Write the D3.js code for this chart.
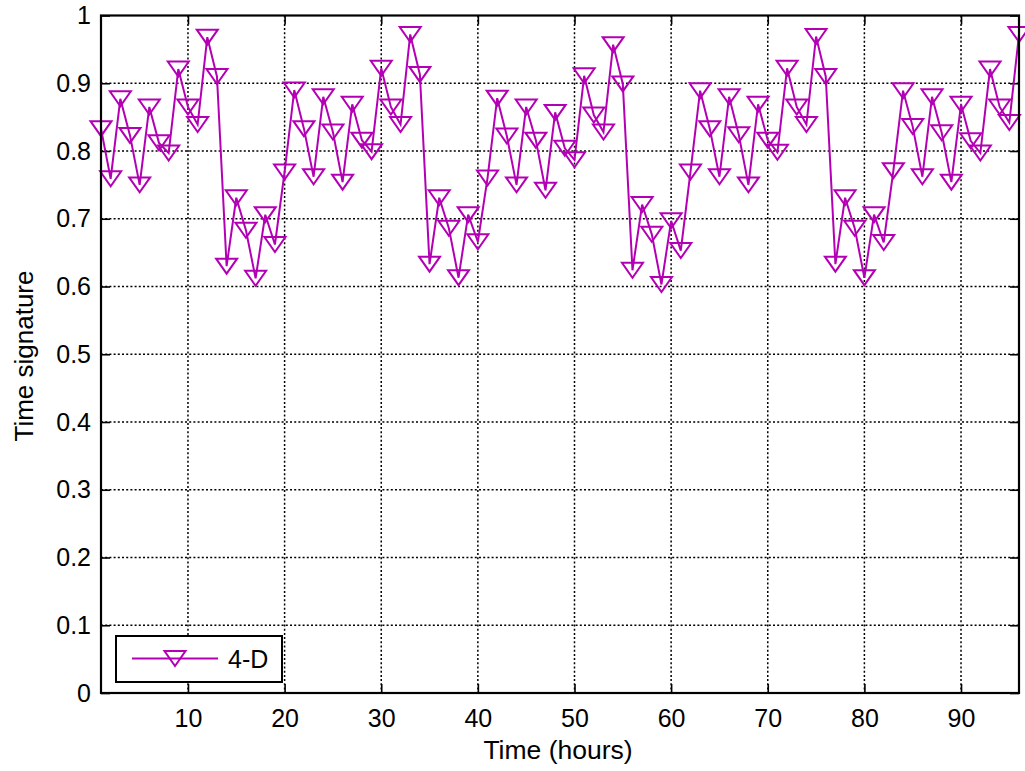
<!DOCTYPE html>
<html>
<head>
<meta charset="utf-8">
<script src="https://cdn.jsdelivr.net/npm/d3@7"></script>
<style>
  html, body { margin: 0; padding: 0; background: #fff; }
  svg { display: block; }
  text { font-family: "Liberation Sans", Arial, sans-serif; fill: #000; }
</style>
</head>
<body>
<svg id="chart" width="1025" height="771"></svg>
<script>
// Hourly time signature, 4-D series
const hours = d3.range(1, 97);
const signature4D = [
  0.833, 0.759, 0.877, 0.823, 0.750, 0.865, 0.812, 0.797, 0.921, 0.865,
  0.839, 0.968, 0.910, 0.630, 0.731, 0.683, 0.612, 0.706, 0.662, 0.769,
  0.890, 0.833, 0.762, 0.880, 0.828, 0.754, 0.869, 0.816, 0.799, 0.922,
  0.865, 0.839, 0.972, 0.913, 0.633, 0.731, 0.686, 0.613, 0.706, 0.666,
  0.760, 0.878, 0.822, 0.750, 0.865, 0.816, 0.742, 0.857, 0.804, 0.787,
  0.911, 0.853, 0.828, 0.957, 0.899, 0.624, 0.721, 0.677, 0.603, 0.697,
  0.653, 0.769, 0.889, 0.833, 0.762, 0.880, 0.824, 0.750, 0.869, 0.816,
  0.798, 0.922, 0.865, 0.839, 0.969, 0.910, 0.633, 0.731, 0.686, 0.613,
  0.706, 0.665, 0.771, 0.889, 0.836, 0.762, 0.880, 0.827, 0.754, 0.869,
  0.815, 0.797, 0.921, 0.865, 0.842, 0.972
];
const xTicks = [10, 20, 30, 40, 50, 60, 70, 80, 90];
const yTicks = [0, 0.1, 0.2, 0.3, 0.4, 0.5, 0.6, 0.7, 0.8, 0.9, 1];
const seriesName = "4-D";
const xTitle = "Time (hours)";
const yTitle = "Time signature";

const color = "#b400b4";
const svg = d3.select("#chart");
const plot = { left: 101, top: 15.5, right: 1019, bottom: 693 };

const x = d3.scaleLinear().domain([1, 96]).range([plot.left, plot.right]);
const y = d3.scaleLinear().domain([0, 1]).range([plot.bottom, plot.top]);

// Grid (dotted)
const grid = svg.append("g");
grid.selectAll("line.gx").data(xTicks).join("line")
  .attr("x1", d => x(d)).attr("x2", d => x(d))
  .attr("y1", plot.top).attr("y2", plot.bottom)
  .attr("stroke", "#000").attr("stroke-width", 1.5).attr("stroke-dasharray", "2,2.2");
grid.selectAll("line.gy").data(yTicks.filter(d => d > 0 && d < 1)).join("line")
  .attr("x1", plot.left).attr("x2", plot.right)
  .attr("y1", d => y(d)).attr("y2", d => y(d))
  .attr("stroke", "#000").attr("stroke-width", 1.5).attr("stroke-dasharray", "2,2.2");

// Axes with inward ticks and labels
const tickLen = 9;
const fmt = d => d === 0 ? "0" : d === 1 ? "1" : d3.format(".1f")(d);

const xAxis = d3.axisBottom(x).tickValues(xTicks).tickSizeInner(-tickLen).tickSizeOuter(0).tickPadding(16);
const yAxis = d3.axisLeft(y).tickValues(yTicks).tickFormat(fmt).tickSizeInner(-tickLen).tickSizeOuter(0).tickPadding(10);
const xAxisTop = d3.axisTop(x).tickValues(xTicks).tickSizeInner(-tickLen).tickSizeOuter(0).tickFormat("");
const yAxisRight = d3.axisRight(y).tickValues(yTicks).tickSizeInner(-tickLen).tickSizeOuter(0).tickFormat("");

function styleAxis(g) {
  g.select(".domain").remove();
  g.selectAll(".tick line").attr("stroke", "#000").attr("stroke-width", 1.6);
  g.selectAll(".tick text").attr("font-size", 25).attr("font-family", "Liberation Sans, Arial, sans-serif").attr("fill", "#000");
}

svg.append("g").attr("transform", `translate(0,${plot.bottom})`).call(xAxis).call(styleAxis);
svg.append("g").attr("transform", `translate(${plot.left},0)`).call(yAxis).call(styleAxis);
svg.append("g").attr("transform", `translate(0,${plot.top})`).call(xAxisTop).call(styleAxis);
svg.append("g").attr("transform", `translate(${plot.right},0)`).call(yAxisRight).call(styleAxis);

// Data line
const line = d3.line().x((d, i) => x(hours[i])).y(d => y(d));
svg.append("path").datum(signature4D)
  .attr("d", line).attr("fill", "none")
  .attr("stroke", color).attr("stroke-width", 2).attr("stroke-linejoin", "miter");

// Downward triangle markers
const tri = "M-10.5,-7.5 L10.5,-7.5 L0,7.5 Z";
svg.append("g").selectAll("path").data(signature4D).join("path")
  .attr("d", tri)
  .attr("transform", (d, i) => `translate(${x(hours[i])},${y(d)})`)
  .attr("fill", "none").attr("stroke", color).attr("stroke-width", 2);

// Plot box
svg.append("rect")
  .attr("x", plot.left).attr("y", plot.top)
  .attr("width", plot.right - plot.left).attr("height", plot.bottom - plot.top)
  .attr("fill", "none").attr("stroke", "#000").attr("stroke-width", 2.2);

// Axis titles
svg.append("text").attr("x", 558).attr("y", 759)
  .attr("text-anchor", "middle").attr("font-size", 26.5).text(xTitle);
svg.append("text")
  .attr("transform", `translate(33,356) rotate(-90)`)
  .attr("text-anchor", "middle").attr("font-size", 26).text(yTitle);

// Legend
const legend = svg.append("g").attr("transform", "translate(116,636)");
legend.append("rect").attr("width", 166).attr("height", 46)
  .attr("fill", "#fff").attr("stroke", "#000").attr("stroke-width", 2);
legend.append("line").attr("x1", 16).attr("x2", 102).attr("y1", 22.5).attr("y2", 22.5)
  .attr("stroke", color).attr("stroke-width", 2);
legend.append("path").attr("d", tri).attr("transform", "translate(59,22.5)")
  .attr("fill", "none").attr("stroke", color).attr("stroke-width", 2);
legend.append("text").attr("x", 112).attr("y", 31.5).attr("font-size", 25).text(seriesName);
</script>
</body>
</html>
